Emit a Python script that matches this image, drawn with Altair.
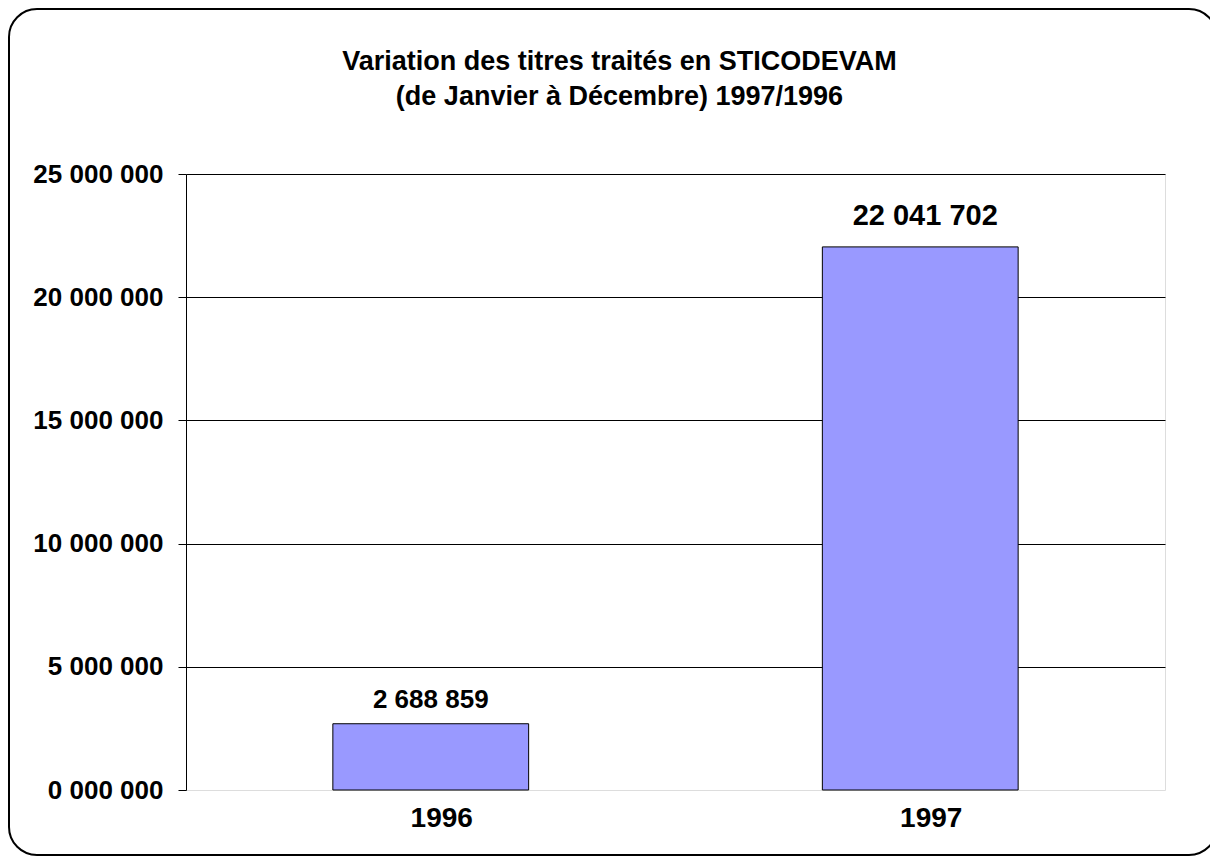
import altair as alt
import pandas as pd

years = ["1996", "1997"]
values = [2688859, 22041702]
y_ticks = [0, 5000000, 10000000, 15000000, 20000000, 25000000]
title_lines = ["Variation des titres traités en STICODEVAM", "(de Janvier à Décembre) 1997/1996"]

df = pd.DataFrame({"year": years, "value": values})
FONT = "Liberation Sans"
fmt = "replace(replace(format(datum.value, ','), ',', ' '), ',', ' ')"

base = alt.Chart(df)

x = alt.X("year:N", sort=years, title=None,
          scale=alt.Scale(paddingInner=0.6, paddingOuter=0.3),
          axis=alt.Axis(domain=False, ticks=False, labelAngle=0, labelFont=FONT,
                        labelFontSize=28, labelFontWeight="bold", labelColor="black",
                        labelPadding=14, labelOffset=11))
y = alt.Y("value:Q", title=None,
          scale=alt.Scale(domain=[0, 25000000], nice=False),
          axis=alt.Axis(values=y_ticks, domainColor="black", domainWidth=1,
                        tickColor="black", tickSize=8, tickWidth=1,
                        grid=True, gridColor="black", gridWidth=1,
                        gridOpacity=alt.condition("datum.value == 0", alt.value(0), alt.value(1)),
                        labelFont=FONT, labelFontSize=26, labelFontWeight="bold",
                        labelColor="black", labelPadding=15,
                        labelExpr="datum.value == 0 ? '0 000 000' : " + fmt))

bars = base.mark_bar(color="#9999FF", stroke="black", strokeWidth=1).encode(x=x, y=y)

lab96 = base.transform_filter("datum.year == '1996'").transform_calculate(
    lbl=fmt).mark_text(font=FONT, fontSize=26, fontWeight="bold", color="black",
                       baseline="alphabetic", dy=-16).encode(x=x, y=y, text="lbl:N")
lab97 = base.transform_filter("datum.year == '1997'").transform_calculate(
    lbl=fmt).mark_text(font=FONT, fontSize=29, fontWeight="bold", color="black",
                       baseline="alphabetic", dy=-22, dx=5).encode(x=x, y=y, text="lbl:N")

frame_df = pd.DataFrame({"k": [0]})
frame = alt.Chart(frame_df).mark_rect(filled=False, stroke="black", strokeWidth=2,
                                      cornerRadius=28).encode(
    x=alt.value(-177), y=alt.value(-165), x2=alt.value(1031), y2=alt.value(681))

chart = alt.layer(frame, bars, lab96, lab97).properties(
    width=979, height=616,
    autosize=alt.AutoSizeParams(type="none"),
    padding={"left": 178, "top": 166, "right": 45, "bottom": 66},
    title=alt.TitleParams(title_lines, font=FONT, fontSize=27, fontWeight="bold",
                          color="black", anchor="middle", dx=-56, lineHeight=35,
                          baseline="alphabetic", offset=0, dy=124),
).configure_view(strokeWidth=0).configure(background="white")

chart.save("out.html", embed_options={"renderer": "svg", "actions": False})
